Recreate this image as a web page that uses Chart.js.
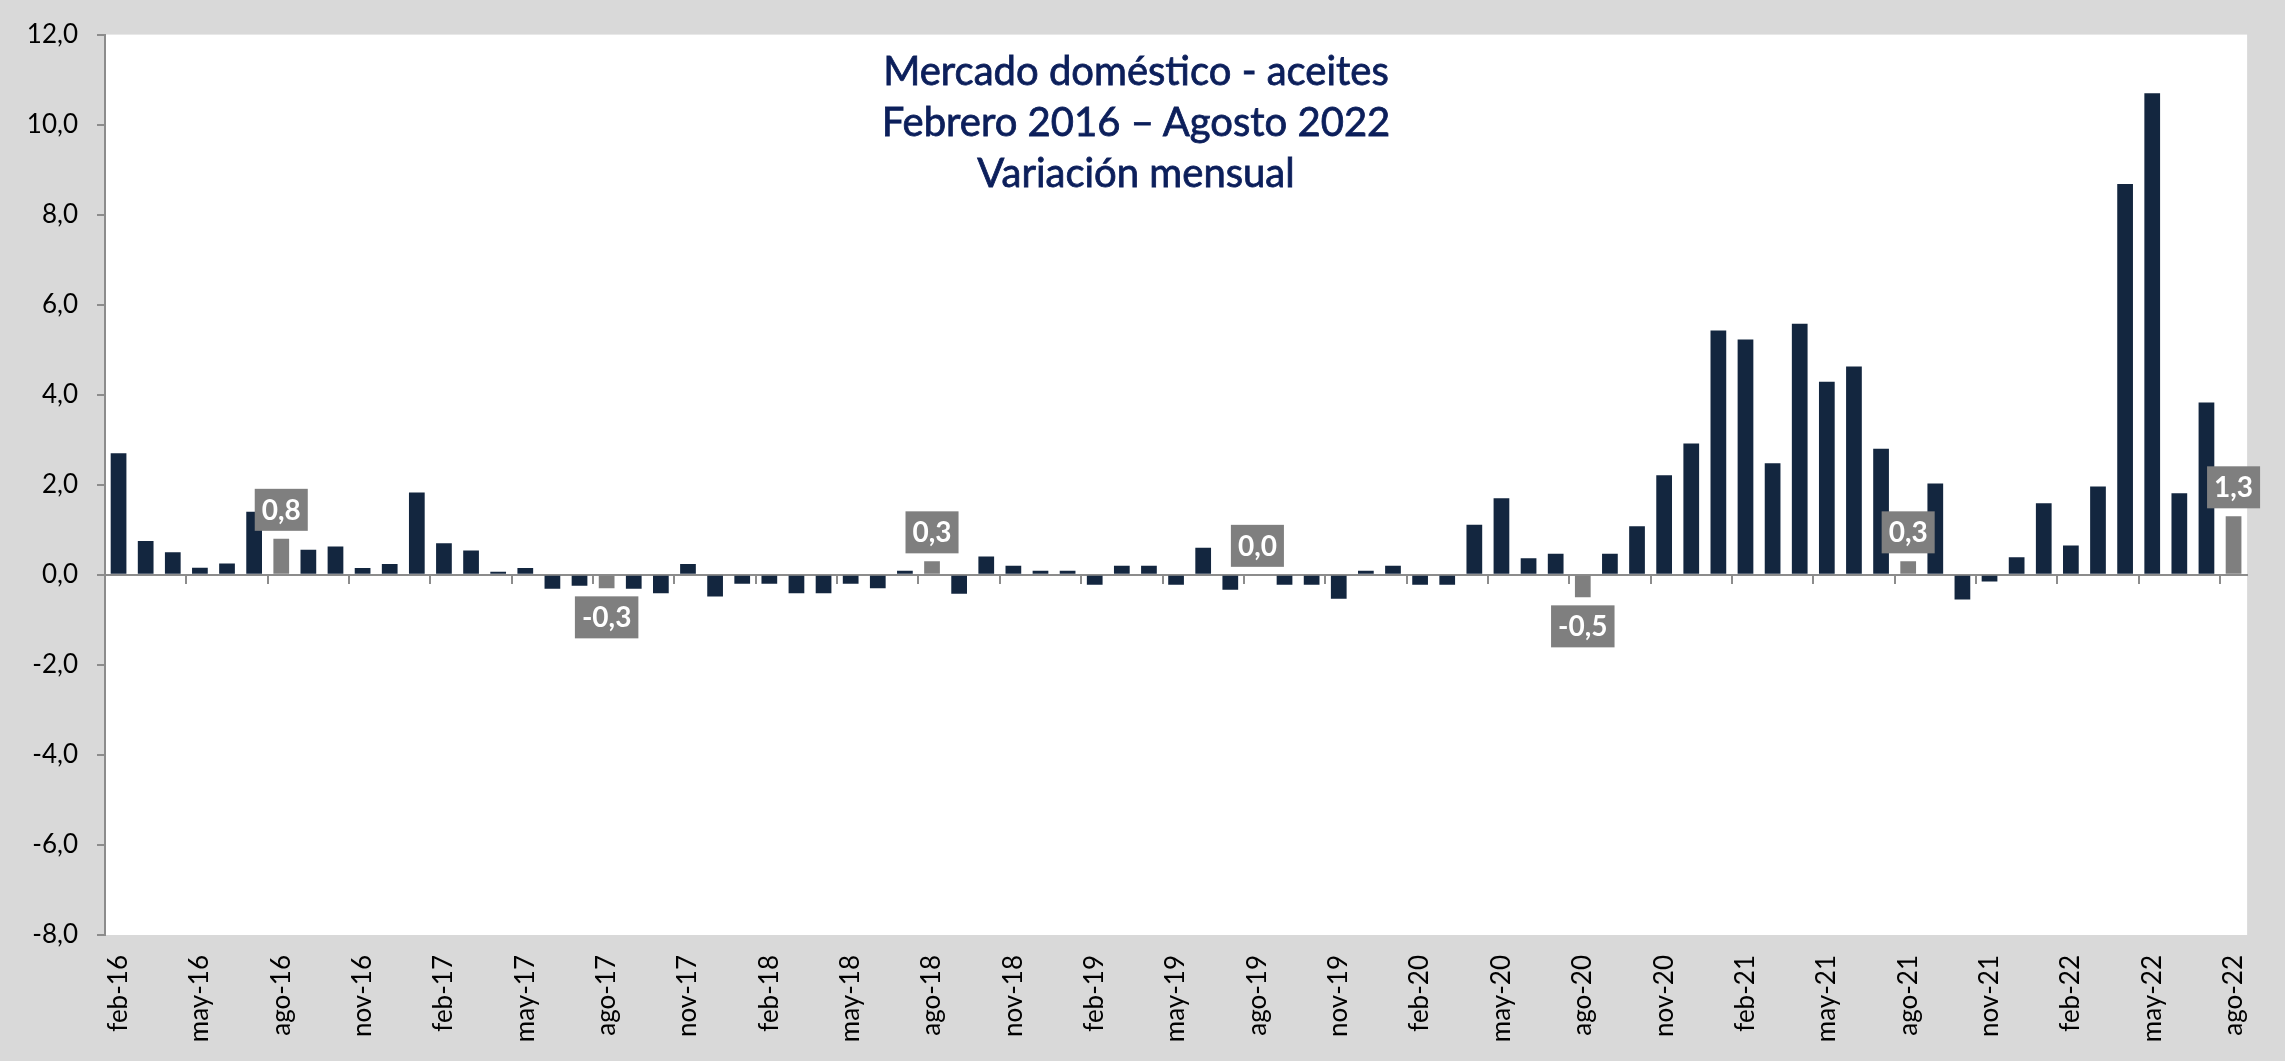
<!DOCTYPE html>
<html lang="es">
<head>
<meta charset="utf-8">
<title>Mercado doméstico - aceites</title>
<script src="https://cdn.jsdelivr.net/npm/chart.js@4.4.1/dist/chart.umd.min.js"></script>
<style>
  html, body { margin: 0; padding: 0; background: #d9d9d9; }
  #contenedor { position: relative; width: 2285px; height: 1061px; }
  #titulo {
    position: absolute; left: 1136px; top: 45px; transform: translateX(-50%);
    font-family: Lato, "Open Sans", sans-serif; font-size: 40px; line-height: 51px;
    color: #0c1f5b; -webkit-text-stroke: 0.8px #0c1f5b;
    text-align: center; white-space: nowrap; pointer-events: none;
  }
</style>
</head>
<body>
<div id="contenedor">
  <canvas id="graficoAceites"></canvas>
  <div id="titulo">Mercado doméstico - aceites<br>Febrero 2016 – Agosto 2022<br>Variación mensual</div>
</div>
<script>
// Meses en formato corto, de feb-16 a ago-22
const meses = ['ene', 'feb', 'mar', 'abr', 'may', 'jun', 'jul', 'ago', 'sep', 'oct', 'nov', 'dic'];
const anios = ['16', '17', '18', '19', '20', '21', '22'];

const etiquetas = [];
anios.forEach(a => meses.forEach(m => etiquetas.push(m + '-' + a)));
const categorias = etiquetas.slice(etiquetas.indexOf('feb-16'), etiquetas.indexOf('ago-22') + 1);

// Variación mensual (%)
const variacion = [
  2.7, 0.75, 0.5, 0.16, 0.25, 1.4, 0.8, 0.56, 0.63, 0.15, 0.24,          // 2016
  1.83, 0.7, 0.54, 0.07, 0.15, -0.31, -0.24, -0.3, -0.31, -0.41, 0.24, -0.48, // 2017
  -0.2, -0.2, -0.41, -0.41, -0.2, -0.3, 0.09, 0.3, -0.42, 0.41, 0.2, 0.09,    // 2018
  0.09, -0.22, 0.2, 0.2, -0.22, 0.6, -0.33, 0.0, -0.22, -0.22, -0.53, 0.09,   // 2019
  0.2, -0.22, -0.22, 1.11, 1.7, 0.37, 0.47, -0.5, 0.47, 1.08, 2.21, 2.92,     // 2020
  5.43, 5.23, 2.48, 5.58, 4.29, 4.63, 2.8, 0.3, 2.03, -0.55, -0.15, 0.39,     // 2021
  1.59, 0.65, 1.96, 8.68, 10.7, 1.81, 3.83, 1.3                               // 2022
];

// Meses resaltados en gris con su valor
const destacados = ['ago-16', 'ago-17', 'ago-18', 'ago-19', 'ago-20', 'ago-21', 'ago-22'];

// Marcas del eje y
const ejeY = { min: -8, max: 12, paso: 2 };

const AZUL = '#13263f';
const GRIS = '#7f7f7f';
const LINEA = '#8c8c8c';
const FUENTE = 'Lato, "Open Sans", sans-serif';

const fmt = v => v.toFixed(1).replace('.', ',');

// Fondo blanco del área de trazado
const fondoArea = {
  id: 'fondoArea',
  beforeDraw(chart) {
    const { ctx, chartArea: a } = chart;
    ctx.save();
    ctx.fillStyle = '#ffffff';
    ctx.fillRect(a.left, a.top, a.right - a.left, a.bottom - a.top);
    ctx.restore();
  }
};

// Recuadros grises con el valor de los meses destacados
const etiquetasValor = {
  id: 'etiquetasValor',
  afterDatasetsDraw(chart) {
    const { ctx } = chart;
    const meta = chart.getDatasetMeta(0);
    ctx.save();
    ctx.font = 'bold 28px ' + FUENTE;
    ctx.textAlign = 'center';
    ctx.textBaseline = 'middle';
    destacados.forEach(et => {
      const i = categorias.indexOf(et);
      if (i < 0) return;
      const barra = meta.data[i];
      const v = variacion[i];
      const txt = fmt(v);
      const w = ctx.measureText(txt).width + 14;
      const h = 42;
      const y = v >= 0 ? Math.min(barra.y, barra.base) - 8 - h : Math.max(barra.y, barra.base) + 8;
      ctx.fillStyle = GRIS;
      ctx.fillRect(barra.x - w / 2, y, w, h);
      ctx.fillStyle = '#ffffff';
      ctx.fillText(txt, barra.x, y + h / 2 + 1);
    });
    ctx.restore();
  }
};

new Chart(document.getElementById('graficoAceites'), {
  type: 'bar',
  data: {
    labels: categorias,
    datasets: [{
      data: variacion,
      backgroundColor: categorias.map(c => destacados.includes(c) ? GRIS : AZUL),
      categoryPercentage: 1,
      barPercentage: 0.58,
      xAxisID: 'x'
    }]
  },
  options: {
    responsive: true,
    maintainAspectRatio: false,
    animation: false,
    layout: { padding: { top: 25, right: 37, left: 0, bottom: 0 } },
    plugins: { legend: { display: false }, tooltip: { enabled: false } },
    scales: {
      // eje en el cero con marcas cada trimestre
      x: {
        type: 'category',
        position: { y: 0 },
        offset: true,
        ticks: { display: false, autoSkip: false },
        grid: {
          drawOnChartArea: false,
          tickLength: 8,
          lineWidth: 2,
          color: c => (c.index > 0 && c.index % 3 === 0) ? LINEA : 'rgba(0,0,0,0)'
        },
        border: { color: LINEA, width: 2 }
      },
      // rótulos de los meses al pie
      xRotulos: {
        type: 'category',
        position: 'bottom',
        labels: categorias,
        offset: true,
        grid: { display: false, drawTicks: false },
        border: { display: false },
        ticks: {
          autoSkip: false,
          minRotation: 90,
          maxRotation: 90,
          padding: 20,
          color: '#000000',
          font: { family: FUENTE, size: 26 },
          callback: (v, i) => i % 3 === 0 ? categorias[i] : ''
        },
        afterFit: s => { s.height = 126; }
      },
      y: {
        min: ejeY.min,
        max: ejeY.max,
        ticks: {
          stepSize: ejeY.paso,
          padding: 19,
          color: '#000000',
          font: { family: FUENTE, size: 26 },
          callback: v => fmt(v)
        },
        grid: { drawOnChartArea: false, tickLength: 8, lineWidth: 2, color: LINEA },
        border: { color: LINEA, width: 2 },
        afterFit: s => { s.width = 105; }
      }
    }
  },
  plugins: [fondoArea, etiquetasValor]
});
</script>
</body>
</html>
